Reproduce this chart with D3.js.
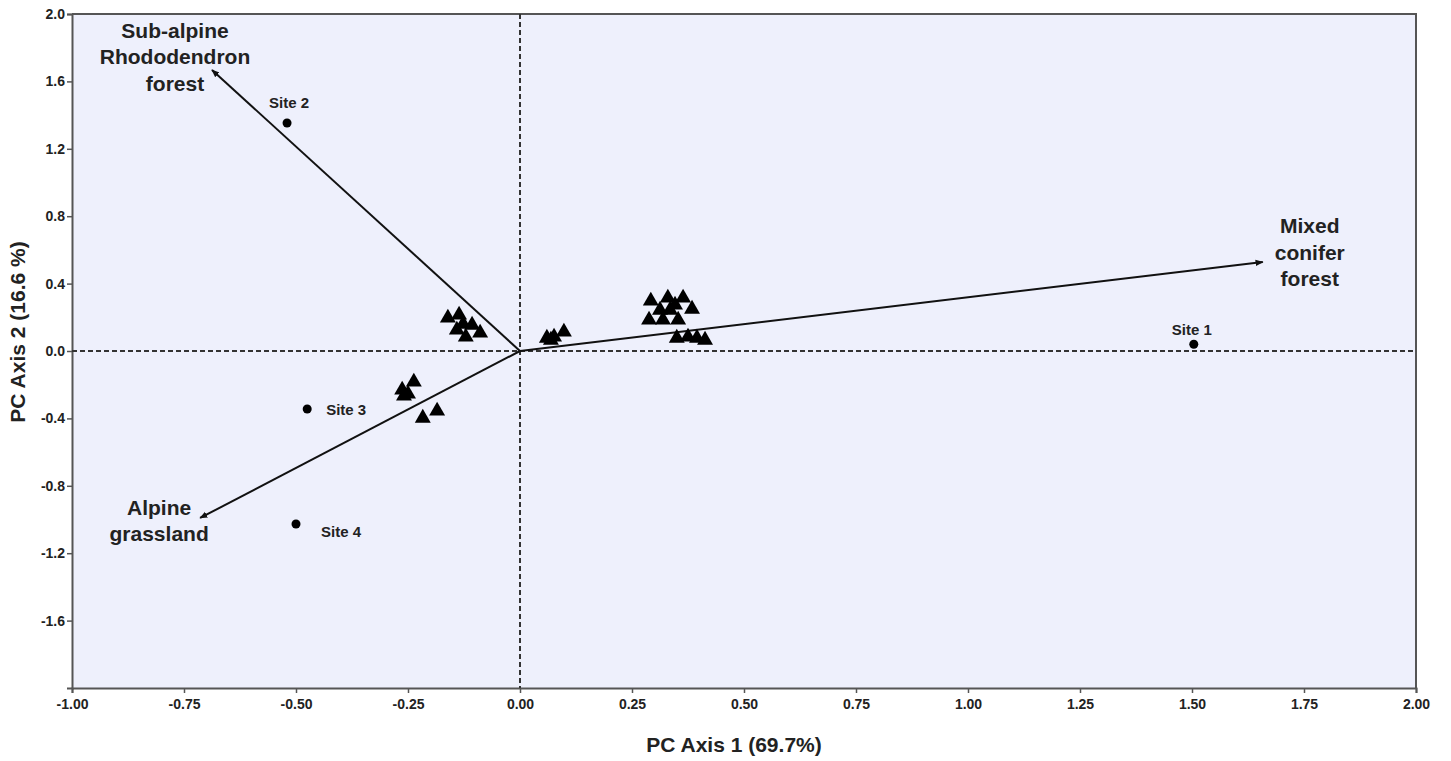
<!DOCTYPE html>
<html><head><meta charset="utf-8">
<script src="https://cdn.jsdelivr.net/npm/d3@7"></script>
<style>
body{margin:0;background:#fff;}
text{font-family:"Liberation Sans Narrow","Arial Narrow","Liberation Sans",Arial,sans-serif;font-weight:bold;fill:#222;}
.lab{font-family:"Liberation Sans",Arial,sans-serif;}
</style></head><body>
<svg id="c" width="1451" height="761"></svg>
<script>
const xTicks=[-1.00,-0.75,-0.50,-0.25,0.00,0.25,0.50,0.75,1.00,1.25,1.50,1.75,2.00];
const yTicks=[-1.6,-1.2,-0.8,-0.4,0.0,0.4,0.8,1.2,1.6,2.0];
const sites=[
 {name:"Site 1",x:1.504,y:0.04},
 {name:"Site 2",x:-0.52,y:1.353},
 {name:"Site 3",x:-0.475,y:-0.344},
 {name:"Site 4",x:-0.50,y:-1.027}
];
const vectors=[
 {name:["Mixed","conifer","forest"],x:1.658,y:0.528},
 {name:["Sub-alpine","Rhododendron","forest"],x:-0.6875,y:1.668},
 {name:["Alpine","grassland"],x:-0.714,y:-0.991}
];
const speciesX=[-0.161,-0.136,-0.141,-0.121,-0.107,-0.089,-0.127,
 -0.263,-0.25,-0.237,-0.259,-0.217,-0.185,
 0.06,0.076,0.098,0.069,
 0.292,0.330,0.364,0.3125,0.384,0.288,0.335,0.353,0.319,0.350,0.375,0.395,0.413,0.346];
const speciesY=[0.196,0.214,0.125,0.083,0.154,0.107,0.16,
 -0.231,-0.255,-0.184,-0.267,-0.398,-0.356,
 0.077,0.083,0.113,0.065,
 0.297,0.315,0.315,0.243,0.249,0.184,0.243,0.184,0.184,0.077,0.083,0.077,0.065,0.273];

const svg=d3.select("#c");
const L=72,R=1416,T=14,B=688;
const x=d3.scaleLinear().domain([-1,2]).range([L,R]);
const y=d3.scaleLinear().domain([-2,2]).range([B,T]);
const fx=d=>d3.format(".2f")(d).replace("\u2212","-");
const fy=d=>d3.format(".1f")(d).replace("\u2212","-");

svg.append("rect").attr("x",L).attr("y",T).attr("width",R-L).attr("height",B-T).attr("fill","#eef0fc");
svg.append("path").attr("d",`M${L},${T}H${R}V${B}`).attr("fill","none").attr("stroke","#555").attr("stroke-width",2);

const xa=svg.append("g").attr("transform",`translate(0,${B})`)
 .call(d3.axisBottom(x).tickValues(xTicks).tickFormat(fx).tickSizeOuter(0).tickSize(5).tickPadding(6));
const ya=svg.append("g").attr("transform",`translate(${L},0)`)
 .call(d3.axisLeft(y).tickValues(yTicks).tickFormat(fy).tickSizeOuter(0).tickSize(5).tickPadding(2));
[xa,ya].forEach(g=>{
 g.select(".domain").attr("stroke","#555").attr("stroke-width",2);
 g.selectAll(".tick line").attr("stroke","#555").attr("stroke-width",1.5);
 g.selectAll(".tick text").attr("font-size",14).attr("fill","#222");
});

svg.append("line").attr("x1",x(0)).attr("x2",x(0)).attr("y1",T).attr("y2",B)
 .attr("stroke","#333").attr("stroke-width",2).attr("stroke-dasharray","5,3");
svg.append("line").attr("x1",L).attr("x2",R).attr("y1",y(0)).attr("y2",y(0))
 .attr("stroke","#333").attr("stroke-width",2).attr("stroke-dasharray","5,3");

svg.append("defs").append("marker").attr("id","ah").attr("viewBox","0 0 10 10").attr("refX",9).attr("refY",5)
 .attr("markerWidth",8).attr("markerHeight",8).attr("markerUnits","userSpaceOnUse").attr("orient","auto")
 .append("path").attr("d","M0,1L10,5L0,9Z").attr("fill","#111");
svg.selectAll(".vec").data(vectors).enter().append("line")
 .attr("x1",x(0)).attr("y1",y(0)).attr("x2",d=>x(d.x)).attr("y2",d=>y(d.y))
 .attr("stroke","#111").attr("stroke-width",2).attr("marker-end","url(#ah)");

const vlabPos=[{dx:47,dy:-29},{dx:-37,dy:-32},{dx:-41,dy:-3}];
vectors.forEach((v,i)=>{
 const t=svg.append("text").attr("class","lab").attr("text-anchor","middle").attr("font-size",21)
  .attr("x",x(v.x)+vlabPos[i].dx).attr("y",y(v.y)+vlabPos[i].dy);
 v.name.forEach((s,j)=>t.append("tspan").attr("x",x(v.x)+vlabPos[i].dx).attr("dy",j?26.5:0).text(s));
});

const tri=d3.symbol().type(d3.symbolTriangle).size(110);
svg.selectAll(".sp").data(speciesX).enter().append("path")
 .attr("d",tri).attr("transform",(d,i)=>`translate(${x(d)},${y(speciesY[i])})`).attr("fill","#000");

svg.selectAll(".site").data(sites).enter().append("circle")
 .attr("cx",d=>x(d.x)).attr("cy",d=>y(d.y)).attr("r",4.5).attr("fill","#000");
const sOff=[{dx:-2,dy:-9,a:"middle"},{dx:2,dy:-15,a:"middle"},{dx:19,dy:6,a:"start"},{dx:25,dy:13,a:"start"}];
svg.selectAll(".slab").data(sites).enter().append("text").attr("class","lab")
 .attr("x",(d,i)=>x(d.x)+sOff[i].dx).attr("y",(d,i)=>y(d.y)+sOff[i].dy)
 .attr("text-anchor",(d,i)=>sOff[i].a).attr("font-size",15).text(d=>d.name);

svg.append("text").attr("x",734).attr("y",752).attr("text-anchor","middle").attr("font-size",21).text("PC Axis 1 (69.7%)");
svg.append("text").attr("transform","translate(25,332) rotate(-90)").attr("text-anchor","middle").attr("font-size",21).text("PC Axis 2 (16.6 %)");
</script></body></html>
